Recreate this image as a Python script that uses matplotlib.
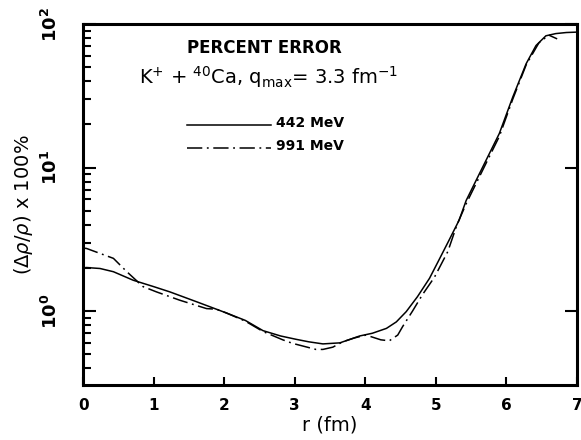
import numpy as np
import matplotlib
matplotlib.use('Agg')
import matplotlib.pyplot as plt
from matplotlib.ticker import LogLocator, NullFormatter

# curves
r_442 = [0.0, 0.05, 0.24, 0.43, 0.71, 1.0, 1.23, 1.61, 2.03, 2.3, 2.55, 2.8, 3.02, 3.2, 3.4, 3.64,
         3.92, 4.1, 4.3, 4.44, 4.58, 4.74, 4.91, 5.03, 5.17, 5.33, 5.43, 5.69, 5.9, 6.09, 6.28,
         6.42, 6.56, 6.7, 6.85, 6.98]
v_442 = [2.0, 2.01, 1.98, 1.88, 1.64, 1.48, 1.36, 1.16, 0.97, 0.86, 0.73, 0.67, 0.635, 0.61, 0.59,
         0.6, 0.67, 0.70, 0.757, 0.84, 0.99, 1.26, 1.69, 2.2, 3.0, 4.3, 5.9, 10.7, 17.3, 31.0,
         53.0, 71.0, 83.0, 86.0, 87.5, 88.0]
r_991 = [0.0, 0.05, 0.43, 0.62, 0.85, 1.04, 1.37, 1.75, 1.89, 2.03, 2.3, 2.55, 2.83, 2.97, 3.3,
         3.4, 3.54, 3.68, 3.85, 4.01, 4.22, 4.34, 4.46, 4.53, 4.67, 4.81, 4.98, 5.17, 5.3, 5.43,
         5.69, 5.9, 6.09, 6.28, 6.46, 6.6, 6.72]
v_991 = [2.75, 2.73, 2.33, 1.88, 1.48, 1.36, 1.19, 1.04, 1.03, 0.97, 0.85, 0.72, 0.63, 0.595, 0.54,
         0.54, 0.56, 0.61, 0.65, 0.68, 0.63, 0.62, 0.68, 0.78, 1.0, 1.3, 1.72, 2.6, 4.0, 5.6,
         10.2, 16.5, 30.0, 52.0, 74.0, 84.0, 79.0]

x_ticks = [0, 1, 2, 3, 4, 5, 6, 7]
y_ticks = [1, 10, 100]
y_labels = [r'$\mathbf{10^{0}}$', r'$\mathbf{10^{1}}$', r'$\mathbf{10^{2}}$']

fig = plt.figure(figsize=(5.81, 4.40), dpi=100)
ax = fig.add_axes([0.143, 0.125, 0.850, 0.820])

dashdot = (0, (10, 3, 1.2, 3))
ax.plot(r_442, v_442, color='black', lw=1.1)
ax.plot(r_991, v_991, color='black', lw=1.1, linestyle=dashdot)

ax.set_yscale('log')
ax.set_xlim(0, 7)
ax.set_ylim(0.305, 100)

ax.set_xticks(x_ticks)
ax.set_xticklabels([str(t) for t in x_ticks], fontweight='bold', fontsize=11)
ax.set_yticks(y_ticks)
ax.set_yticklabels(y_labels, fontsize=13, rotation=90, va='center')
ax.yaxis.set_minor_locator(LogLocator(base=10, subs=np.arange(2, 10)))
ax.yaxis.set_minor_formatter(NullFormatter())

ax.tick_params(axis='x', direction='in', length=6, width=1.5, pad=9, top=False)
ax.tick_params(axis='y', which='major', direction='in', length=9, width=1.5, pad=16,
               left=True, right=True)
ax.tick_params(axis='y', which='minor', direction='in', length=6, width=1.5,
               left=True, right=False)

for s in ax.spines.values():
    s.set_linewidth(2.2)

ax.set_xlabel('r (fm)', fontsize=14, labelpad=2)
ax.set_ylabel(r'($\Delta\rho/\rho$) x 100%', fontsize=14, labelpad=4)

ax.text(0.368, 0.933, 'PERCENT ERROR', transform=ax.transAxes, ha='center', va='center',
        fontsize=12, fontweight='bold')
ax.text(0.114, 0.853, r'K$^{+}$ + $^{40}$Ca, q$_{\rm max}$= 3.3 fm$^{-1}$', transform=ax.transAxes,
        ha='left', va='center', fontsize=14)

# legend drawn by hand
ax.plot([0.21, 0.38], [0.722, 0.722], transform=ax.transAxes, color='black', lw=1.1)
ax.plot([0.21, 0.38], [0.658, 0.658], transform=ax.transAxes, color='black', lw=1.1,
        linestyle=dashdot)
ax.text(0.39, 0.727, '442 MeV', transform=ax.transAxes, ha='left', va='center',
        fontsize=10, fontweight='bold')
ax.text(0.39, 0.663, '991 MeV', transform=ax.transAxes, ha='left', va='center',
        fontsize=10, fontweight='bold')

fig.savefig('out.png', dpi=100)
